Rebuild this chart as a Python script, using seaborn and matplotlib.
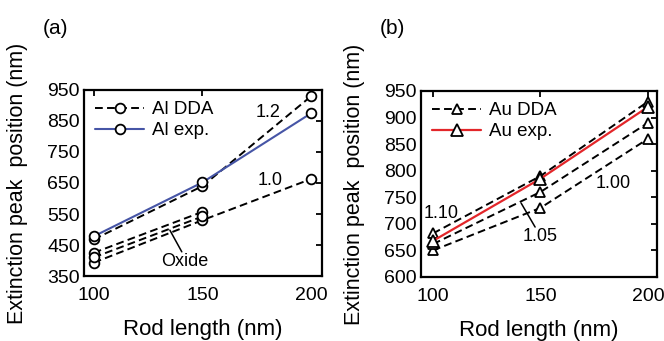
import matplotlib
matplotlib.use("Agg")
import matplotlib.pyplot as plt
import seaborn as sns

sns.set_theme(style="white")
plt.rcParams["font.family"] = ["Liberation Sans", "DejaVu Sans"]
plt.rcParams["text.color"] = "black"
plt.rcParams["axes.labelcolor"] = "black"

# Rod lengths (nm)
rod_length = [100, 150, 200]
rod_length_short = [100, 150]

# (a) Aluminium extinction peak positions (nm)
al_exp = [478, 652, 875]
al_dda_12 = [468, 640, 930]
al_dda_10 = [393, 530, 663]
al_oxide_1 = [425, 557]
al_oxide_2 = [410, 542]

# (b) Gold extinction peak positions (nm)
au_exp = [668, 785, 920]
au_dda_110 = [682, 790, 930]
au_dda_105 = [662, 760, 890]
au_dda_100 = [650, 730, 860]

fig = plt.figure(figsize=(6.64, 3.41), dpi=100)
ax_a = fig.add_axes([0.1265, 0.1906, 0.3584, 0.5455])
ax_b = fig.add_axes([0.634, 0.1877, 0.3554, 0.5455])

TICK_FS = 14
XLABEL_FS = 16
YLABEL_FS = 15.5
LEG_FS = 13.5
NOTE_FS = 13

dash_kw = dict(color="black", linestyle=(0, (4, 2.2)), linewidth=1.4,
               mfc="white", mec="black", mew=1.3, ms=7)


def style_axes(ax, xlim, ylim, yticks):
    ax.set_xlim(*xlim)
    ax.set_ylim(*ylim)
    ax.set_xticks([100, 150, 200])
    ax.set_yticks(yticks)
    ax.tick_params(direction="in", top=True, right=True, length=4, width=1.3,
                   labelsize=TICK_FS, color="black", labelcolor="black")
    ax.tick_params(axis="y", pad=3)
    ax.tick_params(axis="x", pad=8)
    for sp in ax.spines.values():
        sp.set_visible(True)
        sp.set_color("black")
        sp.set_linewidth(1.6)
    ax.set_xlabel("Rod length (nm)", fontsize=XLABEL_FS, labelpad=11, color="black")
    ax.set_ylabel("Extinction peak  position (nm)", fontsize=YLABEL_FS, labelpad=14,
                  color="black")
    ax.grid(False)


# ---- panel (a): aluminium ----
sns.lineplot(x=rod_length, y=al_dda_10, ax=ax_a, marker="o", **dash_kw)
sns.lineplot(x=rod_length_short, y=al_oxide_1, ax=ax_a, marker="o", **dash_kw)
sns.lineplot(x=rod_length_short, y=al_oxide_2, ax=ax_a, marker="o", **dash_kw)
sns.lineplot(x=rod_length, y=al_dda_12, ax=ax_a, marker="o", label="Al DDA", **dash_kw)
sns.lineplot(x=rod_length, y=al_exp, ax=ax_a, marker="o", label="Al exp.",
             color="#4655a6", linewidth=1.5, mfc="white", mec="black", mew=1.3, ms=7)

style_axes(ax_a, (95.5, 205), (350, 950), [350, 450, 550, 650, 750, 850, 950])
ax_a.legend(loc="upper left", frameon=False, fontsize=LEG_FS, handlelength=2.6,
            handletextpad=0.45, borderaxespad=0.2, labelspacing=0.2)
ax_a.text(180, 878, "1.2", fontsize=NOTE_FS, ha="center", va="center")
ax_a.text(181, 657, "1.0", fontsize=NOTE_FS, ha="center", va="center")
ax_a.text(142, 396, "Oxide", fontsize=NOTE_FS, ha="center", va="center")
ax_a.plot([135, 140.5], [498, 428], color="black", linewidth=1.1)
fig.text(0.064, 0.915, "(a)", fontsize=15, ha="left", va="center")

# ---- panel (b): gold ----
sns.lineplot(x=rod_length, y=au_dda_100, ax=ax_b, marker="^", **dash_kw)
sns.lineplot(x=rod_length, y=au_dda_105, ax=ax_b, marker="^", **dash_kw)
sns.lineplot(x=rod_length, y=au_dda_110, ax=ax_b, marker="^", label="Au DDA", **dash_kw)
sns.lineplot(x=rod_length, y=au_exp, ax=ax_b, marker="^", label="Au exp.",
             color="#e3262a", linewidth=1.6, mfc="white", mec="black", mew=1.3, ms=8)

style_axes(ax_b, (94.4, 204.2), (600, 950), [600, 650, 700, 750, 800, 850, 900, 950])
ax_b.legend(loc="upper left", frameon=False, fontsize=LEG_FS, handlelength=2.6,
            handletextpad=0.45, borderaxespad=0.2, labelspacing=0.2)
ax_b.text(104, 720, "1.10", fontsize=NOTE_FS, ha="center", va="center")
ax_b.text(150, 676, "1.05", fontsize=NOTE_FS, ha="center", va="center")
ax_b.text(183.7, 776, "1.00", fontsize=NOTE_FS, ha="center", va="center")
ax_b.plot([141, 147.5], [739, 694], color="black", linewidth=1.1)
fig.text(0.572, 0.915, "(b)", fontsize=15, ha="left", va="center")

fig.savefig("out.png", dpi=100)
